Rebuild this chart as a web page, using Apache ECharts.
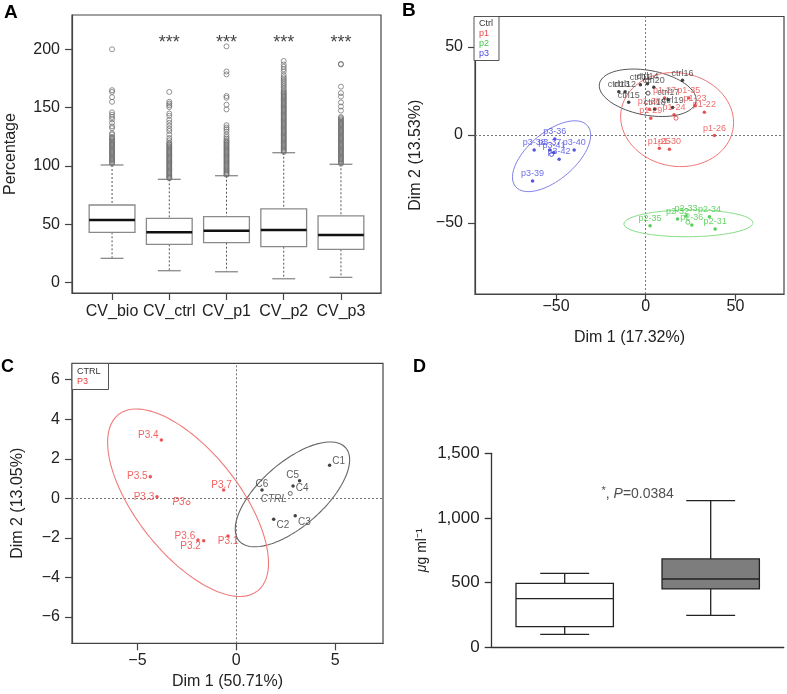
<!DOCTYPE html>
<html><head><meta charset="utf-8">
<script src="https://cdn.jsdelivr.net/npm/echarts@6/dist/echarts.min.js"></script>
<style>html,body{margin:0;padding:0;background:#fff}#c{width:787px;height:694px}</style>
</head><body><div id="c"></div>
<script>
// ---------- Panel A data ----------
const catsA = ['CV_bio', 'CV_ctrl', 'CV_p1', 'CV_p2', 'CV_p3'];
const lowA = [20.9, 10.3, 9.4, 3.4, 4.6];
const q1A = [43.2, 32.9, 34.3, 30.9, 28.6];
const medA = [53.7, 43.2, 44.6, 45.2, 40.9];
const q3A = [66.6, 55.2, 56.6, 63.2, 57.2];
const highA = [100.9, 88.6, 91.7, 111.4, 101.5];
const starsA = ['', '***', '***', '***', '***'];
const starLevelA = 205;
const outBio = [200, 165, 163.5, 159, 155, 146, 144, 142, 140, 137, 134, 132.5, 128, 127, 125, 124, 123, 122, 121, 120, 119, 118, 117, 116, 115, 114, 113, 112, 111, 110, 109, 108, 107, 106, 105, 104, 103, 102];
const outCtrl = [163.5, 155, 153.5, 152, 150.5, 145, 143, 139.5, 137, 134.5, 132, 130, 127, 124, 122, 120, 119, 118, 117, 116, 115, 114, 113, 112, 111, 110, 109, 108, 107, 106, 105, 104, 103, 102, 101, 100, 99, 98, 97, 96, 95, 94, 93, 92, 91, 90, 89.5];
const outP1 = [202.5, 181, 178.5, 160, 158.5, 152.5, 148.5, 135, 133, 131.5, 129.5, 127, 125, 123.5, 122, 121, 120, 119, 118, 117, 116, 115, 114, 113, 112, 111, 110, 109, 108, 107, 106, 105, 104, 103, 102, 101, 100, 99, 98, 97, 96, 95, 94, 93, 92.5];
const outP2 = [190, 187, 185, 183, 181, 178, 176, 174.5, 173, 171.5, 170, 168.5, 167, 165.5, 164, 163, 162, 161, 160, 159, 158, 157, 156, 155, 154, 153, 152, 151, 150, 149, 148, 147, 146, 145, 144, 143, 142, 141, 140, 139, 138, 137, 136, 135, 134, 133, 132, 131, 130, 129, 128, 127, 126, 125, 124, 123, 122, 121, 120, 119, 118, 117, 116, 115, 114, 113, 112];
const outP3 = [187.5, 187, 168, 162.5, 159.5, 154.5, 151, 147.5, 142, 141, 140, 139, 138, 137, 136, 135, 134, 133, 132, 131, 130, 129, 128, 127, 126, 125, 124, 123, 122, 121, 120, 119, 118, 117, 116, 115, 114, 113, 112, 111, 110, 109, 108, 107, 106, 105, 104, 103, 102];
const ticksAy = [0, 50, 100, 150, 200];

// ---------- Panel B data ----------
const groupsB = ['Ctrl', 'p1', 'p2', 'p3'];
const namesCtrlB = ['ctrl16', 'ctrl14', 'ctrl11', 'ctrl20', 'ctrl12', 'ctrl13', 'ctrl15', 'ctrl17', 'ctrl19', 'ctrl18'];
const xCtrlB = [20.5, 1, -3, 4.5, -11.5, -15, -9.5, 12.5, 15, 5];
const yCtrlB = [31, 29, 28.5, 27, 24.5, 24.5, 18.5, 20, 15.5, 14.5];
const namesP1B = ['p1-27', 'p1-35', 'p1-23', 'p1-22', 'p1-24', 'p1-28', 'p1-29', 'p1-26', 'p1-25', 'p1-30'];
const xP1B = [10.5, 24, 27.5, 32.7, 15.8, 2, 2.8, 38.3, 7.6, 13.2];
const yP1B = [21, 21, 16.5, 12.9, 11.4, 14.6, 9.5, -0.4, -7.6, -8.1];
const namesP2B = ['p2-35', 'p2-32', 'p2-33', 'p2-34', 'p2-31', 'p2-36'];
const xP2B = [2.4, 17.7, 22.5, 35.5, 38.7, 25.7];
const yP2B = [-51.5, -47.7, -46, -46.4, -53.4, -51.1];
const namesP3B = ['p3-39', 'p3-38', 'p3-36', 'p3-37', 'p3-41', 'p3-42', 'p3-40'];
const xP3B = [-63.1, -62.2, -50.7, -53.5, -51.2, -48.3, -39.9];
const yP3B = [-26.1, -8.5, -2.3, -8.5, -10, -13.8, -8.5];
const centroidXB = [1.3, 16.9, 23.5, -52.5];
const centroidYB = [23.7, 9.5, -49.6, -11.1];
// ellipse: [centre x, centre y, semi-major, semi-minor, angle deg]
const ellipseCtrlB = [1.1, 23.9, 27.4, 12.7, -10.7];
const ellipseP1B = [17.5, 8.7, 31.65, 26.5, -10.5];
const ellipseP2B = [23.8, -50.2, 36, 7.6, 0.5];
const ellipseP3B = [-52.5, -12.1, 26.5, 13.3, 41.1];
const ticksB = [-50, 0, 50];

// ---------- Panel C data ----------
const namesCtrlC = ['C1', 'C5', 'C4', 'C6', 'C2', 'C3'];
const xCtrlC = [4.72, 3.2, 2.87, 1.3, 1.89, 2.98];
const yCtrlC = [1.68, 0.89, 0.62, 0.42, -1.06, -0.88];
const namesP3C = ['P3.4', 'P3.5', 'P3.3', 'P3.7', 'P3.6', 'P3.2', 'P3.1'];
const xP3C = [-3.79, -4.35, -4.01, -0.64, -1.94, -1.65, -0.42];
const yP3C = [2.95, 1.09, 0.08, 0.42, -2.11, -2.14, -1.9];
const centroidNamesC = ['CTRL', 'P3'];
const centroidXC = [2.73, -2.44];
const centroidYC = [0.25, -0.22];
const ellipseCtrlC = [2.84, 0.2, 3.58, 1.61, 41.25];
const ellipseP3C = [-2.44, -0.22, 5.68, 2.6, -51.7];
const ticksCx = [-5, 0, 5];
const ticksCy = [-6, -4, -2, 0, 2, 4, 6];

// ---------- Panel D data ----------
const lowD = [100, 247];
const q1D = [160, 451];
const medD = [376, 528];
const q3D = [495, 683];
const highD = [572, 1134];
const annotD = '*, P=0.0384';
const annotPosD = [1.5, 1186];

// ---------- styles (not data) ----------
const labelPosCtrlC = [['right', [0, -4]], ['top', [-7, 2]], ['right', [0, 2]], ['top', [0, 2]], ['right', [0, 6]], ['right', [0, 6]]];
const labelPosP3C = [['left', [0, -5]], ['left', [0, -1]], ['left', [0, 0]], ['top', [-2, 3]], ['left', [0, -4]], ['left', [0, 6]], ['bottom', [0, -2]]];
const labelPosCentC = [['left', [0, 6]], ['left', [0, 0]]];
const FONT = 'Liberation Sans';
const minus = v => String(v).replace('-', '\u2212');

function ellipsePts(e) {
  const [cx, cy, a, b, deg] = e;
  const t = deg * Math.PI / 180, pts = [];
  for (let k = 0; k <= 160; k++) {
    const s = 2 * Math.PI * k / 160;
    pts.push([cx + a * Math.cos(s) * Math.cos(t) - b * Math.sin(s) * Math.sin(t),
              cy + a * Math.cos(s) * Math.sin(t) + b * Math.sin(s) * Math.cos(t)]);
  }
  return pts;
}

function boxRenderer(st) {
  return function (params, api) {
    const x = api.value(0);
    const lo = api.coord([x, api.value(1)]), q1 = api.coord([x, api.value(2)]),
          md = api.coord([x, api.value(3)]), q3 = api.coord([x, api.value(4)]),
          hi = api.coord([x, api.value(5)]);
    const unit = api.size([1, 0])[0];
    const hw = unit * st.boxW / 2, cw = unit * st.capW / 2, cx = md[0];
    const wStyle = {stroke: st.whiskStroke, lineWidth: st.whiskLW, lineDash: st.whiskDash};
    const cStyle = {stroke: st.capStroke, lineWidth: st.capLW};
    return {type: 'group', children: [
      {type: 'line', shape: {x1: cx, y1: hi[1], x2: cx, y2: q3[1]}, style: wStyle},
      {type: 'line', shape: {x1: cx, y1: q1[1], x2: cx, y2: lo[1]}, style: wStyle},
      {type: 'line', shape: {x1: cx - cw, y1: hi[1], x2: cx + cw, y2: hi[1]}, style: cStyle},
      {type: 'line', shape: {x1: cx - cw, y1: lo[1], x2: cx + cw, y2: lo[1]}, style: cStyle},
      {type: 'rect', shape: {x: cx - hw, y: q3[1], width: 2 * hw, height: q1[1] - q3[1]},
        style: {fill: st.fills[params.dataIndex % st.fills.length], stroke: st.boxStroke, lineWidth: st.boxLW}},
      {type: 'line', shape: {x1: cx - hw, y1: md[1], x2: cx + hw, y2: md[1]}, style: {stroke: st.medStroke, lineWidth: st.medLW}}
    ]};
  };
}

const frameAxis = (extra) => Object.assign({
  type: 'value', splitLine: {show: false},
  axisLine: {show: true, onZero: false, lineStyle: {color: '#444', width: 1.2}},
  axisTick: {show: true, length: 7, lineStyle: {color: '#444', width: 1.2}},
  axisLabel: {color: '#222', fontSize: 16, fontFamily: FONT, formatter: minus},
  nameTextStyle: {color: '#222', fontSize: 16, fontFamily: FONT},
  nameLocation: 'middle'
}, extra);

const gridBase = {show: true, borderColor: '#444', borderWidth: 1.2, backgroundColor: 'transparent', containLabel: false, outerBoundsMode: 'none'};

const boxDataA = catsA.map((c, i) => [i + 1, lowA[i], q1A[i], medA[i], q3A[i], highA[i]]);
const outDataA = [];
[outBio, outCtrl, outP1, outP2, outP3].forEach((arr, i) => arr.forEach(v => outDataA.push([i + 1, v])));
const starData = [];
starsA.forEach((s, i) => { if (s) starData.push({value: [i + 1, starLevelA], s: s}); });

const colB = {Ctrl: '#111', p1: '#e62a2a', p2: '#2cc22c', p3: '#2b2bd8'};
const labB = {Ctrl: '#333', p1: '#ea4747', p2: '#44c944', p3: '#4a4ade'};
const ellColB = {Ctrl: '#555', p1: '#f07474', p2: '#84de84', p3: '#7f7fe6'};
const ptsB = {
  Ctrl: namesCtrlB.map((n, i) => ({name: n, value: [xCtrlB[i], yCtrlB[i]]})),
  p1: namesP1B.map((n, i) => ({name: n, value: [xP1B[i], yP1B[i]]})),
  p2: namesP2B.map((n, i) => ({name: n, value: [xP2B[i], yP2B[i]]})),
  p3: namesP3B.map((n, i) => ({name: n, value: [xP3B[i], yP3B[i]]}))
};
const ellB = {Ctrl: ellipseCtrlB, p1: ellipseP1B, p2: ellipseP2B, p3: ellipseP3B};

const series = [];
// Panel A
series.push({type: 'custom', xAxisIndex: 0, yAxisIndex: 0, renderItem: boxRenderer({
  boxW: 0.8, capW: 0.4, boxStroke: '#8a8a8a', boxLW: 1.3, fills: ['#fff'], medStroke: '#111', medLW: 2.6,
  whiskStroke: '#555', whiskDash: [2, 2], whiskLW: 1, capStroke: '#8a8a8a', capLW: 1.3}),
  data: boxDataA, encode: {x: 0, y: [1, 2, 3, 4, 5]}, z: 2});
series.push({type: 'scatter', xAxisIndex: 0, yAxisIndex: 0, data: outDataA, symbol: 'circle', symbolSize: 5,
  itemStyle: {color: 'rgba(0,0,0,0)', borderColor: '#6a6a6a', borderWidth: 0.9}, z: 3});
series.push({type: 'scatter', xAxisIndex: 0, yAxisIndex: 0, data: starData, symbolSize: 0,
  label: {show: true, position: 'inside', formatter: p => p.data.s, fontSize: 18, fontFamily: FONT, color: '#111'}});

// Panel B
groupsB.forEach((g, gi) => {
  series.push({type: 'line', name: g, xAxisIndex: 1, yAxisIndex: 1, data: ellipsePts(ellB[g]), symbol: 'none',
    lineStyle: {color: ellColB[g], width: 1}, itemStyle: {color: colB[g]}, z: 2, silent: true});
  const s = {type: 'scatter', name: g, xAxisIndex: 1, yAxisIndex: 1, data: ptsB[g], symbol: 'circle', symbolSize: 3.5,
    itemStyle: {color: colB[g]}, z: 4,
    label: {show: true, position: 'top', distance: 1, formatter: '{b}', fontSize: 9, fontFamily: FONT, color: labB[g]}};
  if (gi === 0) s.markLine = {silent: true, symbol: ['none', 'none'], label: {show: false},
    lineStyle: {color: '#777', type: [2, 2], width: 1}, data: [{xAxis: 0}, {yAxis: 0}], z: 1};
  series.push(s);
});
series.push({type: 'scatter', xAxisIndex: 1, yAxisIndex: 1, symbol: 'circle', symbolSize: 4,
  data: groupsB.map((g, i) => ({value: [centroidXB[i], centroidYB[i]], itemStyle: {color: 'rgba(0,0,0,0)', borderColor: colB[g], borderWidth: 0.9}})), z: 4});

// Panel C
series.push({type: 'line', name: 'CTRL', xAxisIndex: 2, yAxisIndex: 2, data: ellipsePts(ellipseCtrlC), symbol: 'none',
  lineStyle: {color: '#666', width: 1.1}, itemStyle: {color: '#111'}, z: 2, silent: true});
series.push({type: 'line', name: 'P3', xAxisIndex: 2, yAxisIndex: 2, data: ellipsePts(ellipseP3C), symbol: 'none',
  lineStyle: {color: '#f07a7a', width: 1.1}, itemStyle: {color: '#e62a2a'}, z: 2, silent: true});
series.push({type: 'scatter', name: 'CTRL', xAxisIndex: 2, yAxisIndex: 2, symbol: 'circle', symbolSize: 3.5, itemStyle: {color: '#111'}, z: 4,
  data: namesCtrlC.map((n, i) => ({name: n, value: [xCtrlC[i], yCtrlC[i]],
    label: {position: labelPosCtrlC[i][0], offset: labelPosCtrlC[i][1]}})),
  label: {show: true, formatter: '{b}', distance: 1, fontSize: 10, fontFamily: FONT, color: '#333'},
  markLine: {silent: true, symbol: ['none', 'none'], label: {show: false},
    lineStyle: {color: '#777', type: [2, 2], width: 1}, data: [{xAxis: 0}, {yAxis: 0}], z: 1}});
series.push({type: 'scatter', name: 'P3', xAxisIndex: 2, yAxisIndex: 2, symbol: 'circle', symbolSize: 3.5, itemStyle: {color: '#e62a2a'}, z: 4,
  data: namesP3C.map((n, i) => ({name: n, value: [xP3C[i], yP3C[i]],
    label: {position: labelPosP3C[i][0], offset: labelPosP3C[i][1]}})),
  label: {show: true, formatter: '{b}', distance: 1, fontSize: 10, fontFamily: FONT, color: '#ee3b3b'}});
series.push({type: 'scatter', xAxisIndex: 2, yAxisIndex: 2, symbol: 'circle', symbolSize: 4, z: 4,
  data: centroidNamesC.map((n, i) => ({name: n, value: [centroidXC[i], centroidYC[i]],
    itemStyle: {color: 'rgba(0,0,0,0)', borderColor: i === 0 ? '#333' : '#e62a2a', borderWidth: 0.9},
    label: {position: labelPosCentC[i][0], offset: labelPosCentC[i][1], color: i === 0 ? '#333' : '#ee3b3b'}})),
  label: {show: true, formatter: '{b}', distance: 1, fontSize: 10, fontStyle: 'italic', fontFamily: FONT}});

// Panel D
series.push({type: 'custom', xAxisIndex: 3, yAxisIndex: 3, renderItem: boxRenderer({
  boxW: 0.667, capW: 0.335, boxStroke: '#222', boxLW: 1.3, fills: ['#fff', '#7d7d7d'], medStroke: '#222', medLW: 1.3,
  whiskStroke: '#222', whiskDash: null, whiskLW: 1.3, capStroke: '#222', capLW: 1.3}),
  data: lowD.map((v, i) => [i + 1, lowD[i], q1D[i], medD[i], q3D[i], highD[i]]), encode: {x: 0, y: [1, 2, 3, 4, 5]}});
series.push({type: 'scatter', xAxisIndex: 3, yAxisIndex: 3, data: [annotPosD], symbolSize: 0,
  label: {show: true, position: 'inside', fontFamily: FONT, fontSize: 14, color: '#222',
    formatter: () => annotD.replace(/^\*, P/, '{s|*}, {i|P}'),
    rich: {s: {fontSize: 11, padding: [0, 0, 6, 0], fontFamily: FONT, color: '#222'}, i: {fontStyle: 'italic', fontSize: 14, fontFamily: FONT, color: '#222'}}}});

const chart = echarts.init(document.getElementById('c'), null, {renderer: 'canvas'});
chart.setOption({
  animation: false,
  backgroundColor: '#fff',
  textStyle: {fontFamily: FONT},
  title: [
    {text: 'A', left: 4, top: 3, padding: 0, textStyle: {fontSize: 19, fontWeight: 'bold', color: '#000', fontFamily: FONT}},
    {text: 'B', left: 402, top: 1, padding: 0, textStyle: {fontSize: 19, fontWeight: 'bold', color: '#000', fontFamily: FONT}},
    {text: 'C', left: 1, top: 358, padding: 0, textStyle: {fontSize: 18, fontWeight: 'bold', color: '#000', fontFamily: FONT}},
    {text: 'D', left: 413, top: 358, padding: 0, textStyle: {fontSize: 18, fontWeight: 'bold', color: '#000', fontFamily: FONT}}
  ],
  legend: [
    {orient: 'vertical', left: 474, top: 16.5, selectedMode: false, itemWidth: 0, itemHeight: 0, itemGap: 0,
      padding: [2, 6, 2, 0], borderColor: '#555', borderWidth: 1, backgroundColor: '#fff', icon: 'rect',
      textStyle: {fontSize: 9, lineHeight: 10, fontFamily: FONT},
      data: groupsB.map(g => ({name: g, textStyle: {color: labB[g]}}))},
    {orient: 'vertical', left: 72, top: 363.5, selectedMode: false, itemWidth: 0, itemHeight: 0, itemGap: 0,
      padding: [3, 8, 3, 0], borderColor: '#555', borderWidth: 1, backgroundColor: '#fff', icon: 'rect',
      textStyle: {fontSize: 9, lineHeight: 10, fontFamily: FONT},
      data: [{name: 'CTRL', textStyle: {color: '#333'}}, {name: 'P3', textStyle: {color: '#ee3b3b'}}]}
  ],
  grid: [
    Object.assign({left: 72, top: 15, width: 309, height: 278}, gridBase),
    Object.assign({left: 475, top: 16.5, width: 309, height: 277.5}, gridBase),
    Object.assign({left: 72, top: 363.3, width: 311, height: 280}, gridBase),
    {left: 491.7, top: 453.3, width: 292, height: 194, show: false, containLabel: false, outerBoundsMode: 'none'}
  ],
  xAxis: [
    frameAxis({gridIndex: 0, min: 0.3, max: 5.7,
      axisTick: {show: true, length: 7, customValues: [1, 2, 3, 4, 5], lineStyle: {color: '#444', width: 1.2}},
      axisLabel: {customValues: [1, 2, 3, 4, 5], formatter: v => catsA[Math.round(v) - 1], color: '#222', fontSize: 16, fontFamily: FONT, margin: 11}}),
    frameAxis({gridIndex: 1, min: -95.2, max: 77.1, name: 'Dim 1 (17.32%)', nameGap: 36,
      axisTick: {show: true, length: 7, customValues: ticksB, lineStyle: {color: '#444', width: 1.2}},
      axisLabel: {customValues: ticksB, formatter: minus, color: '#222', fontSize: 16, fontFamily: FONT, margin: 5}}),
    frameAxis({gridIndex: 2, min: -8.31, max: 7.42, name: 'Dim 1 (50.71%)', nameGap: 30,
      axisTick: {show: true, length: 7, customValues: ticksCx, lineStyle: {color: '#444', width: 1.2}},
      axisLabel: {customValues: ticksCx, formatter: minus, color: '#222', fontSize: 16, fontFamily: FONT, margin: 9}}),
    {type: 'value', gridIndex: 3, min: 0.5, max: 2.5, splitLine: {show: false},
      axisLine: {show: true, onZero: false, lineStyle: {color: '#333', width: 1.3}},
      axisTick: {show: false}, axisLabel: {show: false}}
  ],
  yAxis: [
    frameAxis({gridIndex: 0, min: -8.8, max: 229.4, name: 'Percentage', nameGap: 53, nameRotate: 90,
      axisTick: {show: true, length: 7, customValues: ticksAy, lineStyle: {color: '#444', width: 1.2}},
      axisLabel: {customValues: ticksAy, formatter: minus, color: '#222', fontSize: 16, fontFamily: FONT, margin: 12}}),
    frameAxis({gridIndex: 1, min: -90.3, max: 67.2, name: 'Dim 2 (13.53%)', nameGap: 51, nameRotate: 90,
      axisTick: {show: true, length: 7, customValues: ticksB, lineStyle: {color: '#444', width: 1.2}},
      axisLabel: {customValues: ticksB, formatter: minus, color: '#222', fontSize: 16, fontFamily: FONT, margin: 12}}),
    frameAxis({gridIndex: 2, min: -7.33, max: 6.83, name: 'Dim 2 (13.05%)', nameGap: 46, nameRotate: 90,
      axisTick: {show: true, length: 7, customValues: ticksCy, lineStyle: {color: '#444', width: 1.2}},
      axisLabel: {customValues: ticksCy, formatter: minus, color: '#222', fontSize: 16, fontFamily: FONT, margin: 12}}),
    {type: 'value', gridIndex: 3, min: 0, max: 1500, interval: 500, splitLine: {show: false},
      name: '{i|\u03bc}g ml\u207b\u00b9', nameLocation: 'middle', nameGap: 63, nameRotate: 90,
      nameTextStyle: {fontSize: 14, color: '#222', fontFamily: FONT, rich: {i: {fontStyle: 'italic', fontSize: 14, color: '#222', fontFamily: FONT}}},
      axisLine: {show: true, onZero: false, lineStyle: {color: '#333', width: 1.3}},
      axisTick: {show: true, length: 7, lineStyle: {color: '#333', width: 1.3}},
      axisLabel: {color: '#222', fontSize: 17, fontFamily: FONT, margin: 12, formatter: v => v.toLocaleString('en-US')}}
  ],
  series: series
});
</script></body></html>
